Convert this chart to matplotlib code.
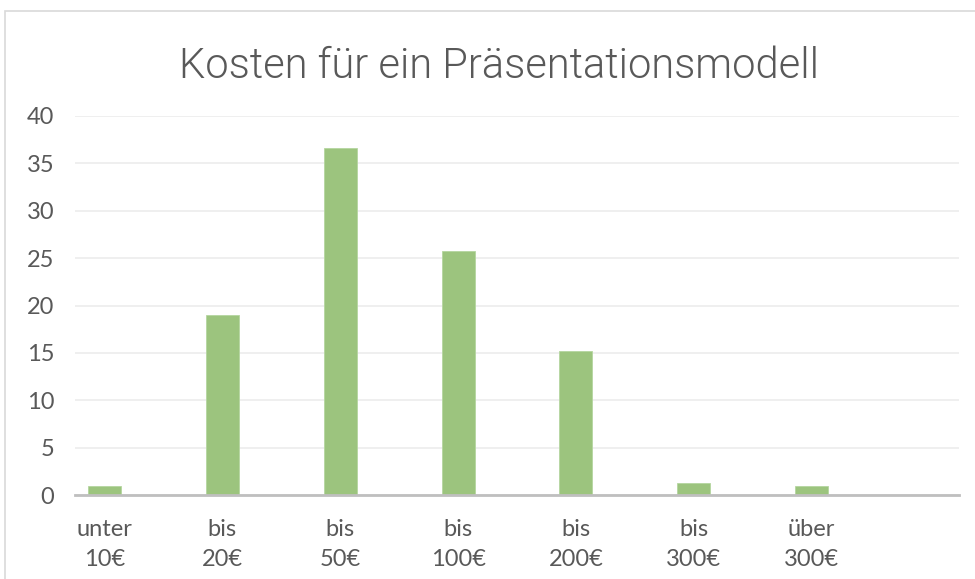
import matplotlib.pyplot as plt
import matplotlib.patches as patches

categories = ["unter\n10€", "bis\n20€", "bis\n50€", "bis\n100€", "bis\n200€", "bis\n300€", "über\n300€"]
values = [0.9, 19.0, 36.6, 25.7, 15.2, 1.3, 0.9]
yticks = [0, 5, 10, 15, 20, 25, 30, 35, 40]

W, H = 975, 579
txt = "#595959"

fig = plt.figure(figsize=(W / 100, H / 100), dpi=100)
plt.rcParams["font.family"] = ["Lato", "DejaVu Sans"]

# chart frame, like the office export
fig.patches.append(patches.Rectangle((5 / W, -0.05), 1.1, 1 - 11 / H + 0.05,
                                     transform=fig.transFigure, fill=False,
                                     edgecolor="#d9d9d9", lw=1.2))

ax = fig.add_axes([75 / W, 1 - 495 / H, (959 - 75) / W, (495 - 116) / H])
x = list(range(len(categories)))
ax.bar(x, values, width=0.28, color="#9cc47e", edgecolor="#b5d6a0", lw=0.6, zorder=3)

ax.set_xlim(-0.25, 7.25)
ax.set_ylim(0, 40)
ax.set_yticks(yticks)
ax.set_yticklabels([str(v) for v in yticks], fontsize=17, color=txt)
ax.set_xticks(x)
ax.set_xticklabels(categories, fontsize=17, color=txt, linespacing=1.55)
ax.tick_params(length=0)
ax.tick_params(axis="y", pad=15)
ax.tick_params(axis="x", pad=17)

for s in ["top", "right", "left"]:
    ax.spines[s].set_visible(False)
ax.spines["bottom"].set_color("#bfbfbf")
ax.spines["bottom"].set_linewidth(2)
ax.spines["bottom"].set_zorder(4)
ax.grid(axis="y", color="#efefef", lw=1.4, zorder=0)
ax.set_axisbelow(True)

fig.text(499 / W, 1 - 78 / H, "Kosten für ein Präsentationsmodell", ha="center", va="baseline",
         fontsize=30, color=txt, family=["Roboto", "DejaVu Sans"], fontweight=300)

fig.savefig("out.png", dpi=100)
